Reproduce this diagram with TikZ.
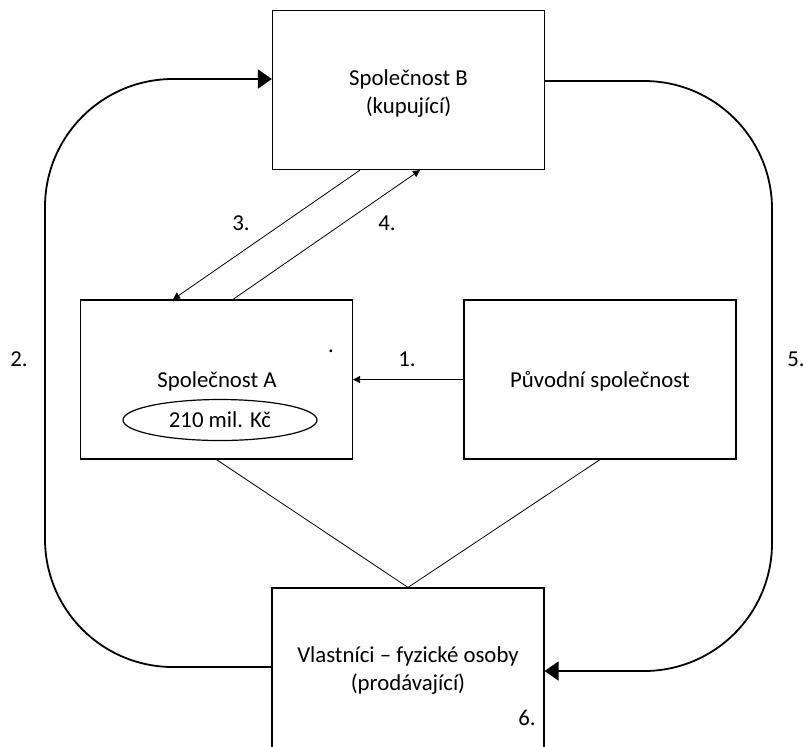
\documentclass[tikz,border=0pt]{standalone}
\usepackage{fontspec}
\setmainfont{Carlito}
\usetikzlibrary{arrows.meta,shapes.geometric}

\begin{document}
\begin{tikzpicture}[x=0.5pt,y=-0.5pt,font=\fontsize{11.4}{14}\selectfont,
	box/.style={draw,line width=0.6pt,minimum width=136pt,minimum height=79.5pt},
	txt/.style={align=center,inner sep=0pt},
	num/.style={inner sep=0pt,anchor=base},
	flow/.style={line width=0.9pt,rounded corners=64pt,-{Triangle[length=7pt,width=9.5pt]}},
	link/.style={line width=0.4pt},
	>={Triangle[length=3.5pt,width=3.5pt]}]
		\clip (0,0) rectangle (803,746);
		\node[box] (B) at (408.5,90) {};
		\node[box] (A) at (216.5,379.5) {};
		\node[box] (P) at (600,379.5) {};
		\node[box,minimum height=86pt] (V) at (408,674) {};
		\node[txt] (Btxt) at (408.5,94) {Společnost B\\(kupující)};
		\node[txt] (Atxt) at (217,381) {Společnost A};
		\node[draw,ellipse,line width=0.6pt,minimum width=97pt,minimum height=20.5pt,inner sep=0pt] (Akc) at (220,420) {210 mil. Kč};
		\node[num] (Ptxt) at (600,387) {Původní společnost};
		\node[txt] (Vtxt) at (408,670.5) {Vlastníci – fyzické osoby\\(prodávající)};
		\node[num] (dot) at (331,352) {.};
		\coordinate (lc) at (45,79);
		\coordinate (rc) at (772,671);
		\draw[flow] ([yshift=3.5pt]V.west) -| (lc) -- ([yshift=5.5pt]B.west);
		\draw[flow] ([yshift=4.5pt]B.east) -| (rc) -- ([yshift=1.5pt]V.east);
		\draw[link,->] (P.west) -- (A.east);
		\draw[link,->] ([xshift=-24.25pt]B.south) -- ([xshift=-21.75pt]A.north);
		\draw[link,->] ([xshift=8.25pt]A.north) -- ([xshift=5.75pt]B.south);
		\draw[link] (A.south) -- (V.north) -- (P.south);
		\node[num] (n1) at (407,366) {1.};
		\node[num] (n2) at (19,366) {2.};
		\node[num] (n3) at (241,230) {3.};
		\node[num] (n4) at (387,230) {4.};
		\node[num] (n5) at (796,366) {5.};
		\node[num] (n6) at (527,725) {6.};
	\end{tikzpicture}
\end{document}
